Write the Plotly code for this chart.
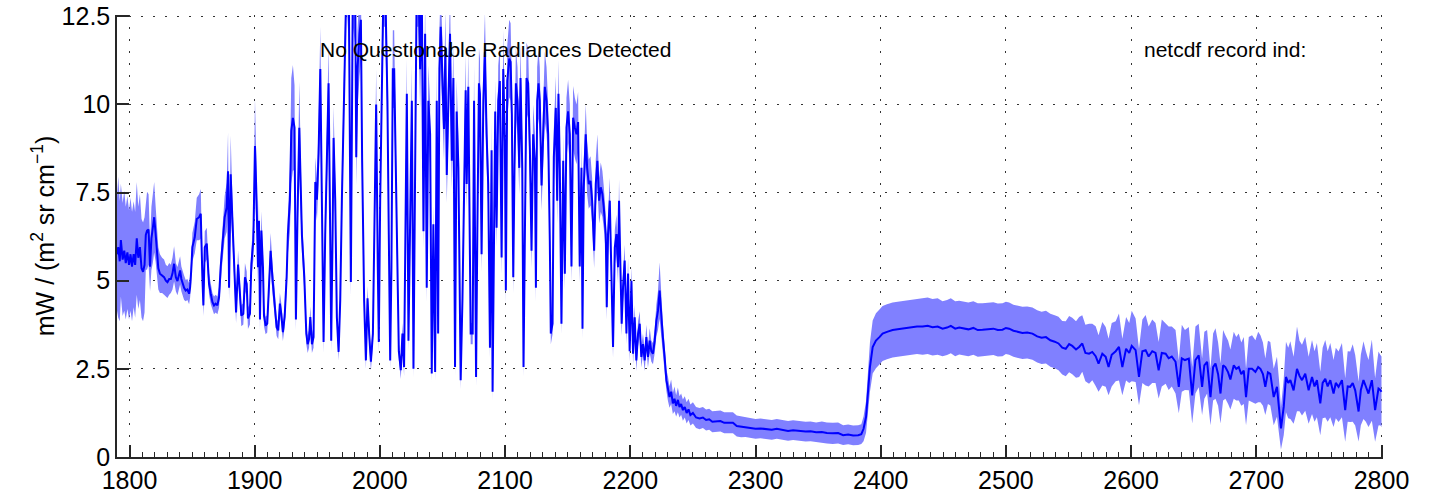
import plotly.graph_objects as go

# Wavenumber (cm^-1)
wavenumber = [
    1790.0, 1791.0, 1792.2, 1793.1, 1794.5, 1795.8, 1797.0, 1798.3, 1799.6, 1800.8,
    1802.0, 1803.3, 1804.5, 1805.8, 1807.0, 1808.3, 1809.6, 1810.8, 1812.0, 1813.0,
    1814.0, 1815.2, 1816.4, 1817.5, 1818.6, 1819.7, 1820.8, 1821.8, 1823.0, 1824.3,
    1826.0, 1827.6, 1829.0, 1830.3, 1831.7, 1833.0, 1834.3, 1835.6, 1837.0, 1838.3,
    1839.4, 1840.4, 1841.4, 1842.3, 1843.6, 1844.9, 1846.2, 1847.6, 1848.4, 1849.3,
    1850.2, 1852.1, 1853.7, 1855.6, 1856.9, 1858.2, 1859.0, 1860.1, 1861.7, 1862.7,
    1863.5, 1864.9, 1866.2, 1867.5, 1868.8, 1870.2, 1871.5, 1872.8, 1874.0, 1875.0,
    1876.0, 1877.6, 1878.7, 1879.5, 1880.8, 1882.1, 1883.0, 1884.0, 1885.1, 1886.7,
    1888.3, 1889.3, 1890.9, 1892.2, 1893.6, 1894.6, 1896.2, 1897.3, 1898.9, 1899.4,
    1900.2, 1901.5, 1902.6, 1903.4, 1904.2, 1905.3, 1906.6, 1907.4, 1908.7, 1910.0,
    1911.4, 1912.7, 1914.3, 1915.9, 1917.5, 1918.8, 1920.1, 1921.2, 1922.5, 1923.9,
    1925.5, 1926.5, 1928.1, 1929.2, 1930.5, 1931.8, 1932.9, 1934.2, 1935.6, 1937.7,
    1939.6, 1941.2, 1942.3, 1943.4, 1944.4, 1945.7, 1947.0, 1948.4, 1949.7, 1951.0,
    1952.4, 1953.7, 1955.0, 1956.3, 1957.7, 1959.0, 1960.3, 1961.1, 1962.2, 1963.0,
    1964.3, 1965.6, 1967.0, 1968.3, 1969.6, 1971.0, 1972.3, 1973.6, 1975.2, 1976.8,
    1978.4, 1980.3, 1981.1, 1982.1, 1983.7, 1984.8, 1985.8, 1987.4, 1988.8, 1990.1,
    1991.4, 1992.8, 1994.4, 1995.7, 1997.0, 1998.3, 1999.1, 2000.2, 2001.5, 2002.9,
    2004.2, 2006.0, 2007.1, 2008.2, 2009.2, 2010.3, 2011.4, 2012.4, 2013.5, 2015.1,
    2016.7, 2018.0, 2019.3, 2020.4, 2021.5, 2022.8, 2024.1, 2025.5, 2026.8, 2028.1,
    2029.4, 2030.8, 2032.1, 2033.4, 2034.8, 2036.1, 2037.4, 2038.7, 2040.1, 2041.4,
    2042.7, 2044.1, 2045.4, 2046.5, 2047.5, 2048.6, 2050.2, 2051.2, 2052.3, 2053.4,
    2054.7, 2056.0, 2057.4, 2058.7, 2060.0, 2061.3, 2062.7, 2063.5, 2064.5, 2065.9,
    2067.2, 2068.5, 2069.3, 2070.6, 2072.5, 2074.1, 2075.2, 2076.8, 2077.8, 2079.1,
    2079.9, 2081.2, 2082.6, 2083.9, 2085.2, 2086.5, 2087.9, 2089.2, 2090.0, 2091.1,
    2092.1, 2093.2, 2094.5, 2095.8, 2097.2, 2098.5, 2099.8, 2100.6, 2101.7, 2103.3,
    2104.4, 2105.4, 2106.5, 2107.5, 2108.6, 2109.9, 2111.3, 2112.3, 2113.7, 2114.7,
    2115.8, 2117.1, 2118.4, 2119.8, 2121.1, 2122.4, 2123.8, 2124.6, 2125.6, 2126.7,
    2127.7, 2129.1, 2130.4, 2131.7, 2133.1, 2134.4, 2135.7, 2136.5, 2137.9, 2138.9,
    2140.5, 2141.6, 2142.6, 2143.7, 2145.0, 2146.4, 2147.7, 2149.0, 2150.3, 2151.7,
    2153.0, 2154.3, 2155.7, 2157.0, 2158.3, 2159.6, 2161.0, 2161.8, 2162.8, 2164.4,
    2165.5, 2166.8, 2168.2, 2169.5, 2171.1, 2172.4, 2173.7, 2175.1, 2176.4, 2177.7,
    2178.8, 2180.4, 2181.2, 2182.2, 2183.6, 2184.9, 2186.2, 2187.6, 2188.9, 2190.2,
    2191.0, 2192.1, 2193.1, 2194.2, 2195.5, 2196.9, 2198.2, 2199.5, 2200.9, 2202.2,
    2203.5, 2204.8, 2206.2, 2207.5, 2208.8, 2210.1, 2211.5, 2212.8, 2214.1, 2215.5,
    2216.8, 2218.1, 2219.5, 2220.8, 2222.1, 2223.4, 2224.8, 2226.0, 2227.4, 2228.8,
    2230.0, 2231.3, 2232.6, 2234.0, 2235.3, 2236.6, 2238.0, 2239.3, 2240.6, 2242.0,
    2243.5, 2245.0, 2246.5, 2248.0, 2250.0, 2252.5, 2255.3, 2258.0, 2260.5, 2263.0,
    2265.5, 2268.6, 2272.0, 2275.0, 2278.5, 2282.0, 2285.0, 2288.5, 2292.0, 2295.0,
    2300.0, 2304.0, 2308.5, 2313.0, 2317.0, 2321.8, 2326.0, 2330.0, 2335.0, 2340.0,
    2344.0, 2348.4, 2353.0, 2357.0, 2361.7, 2366.0, 2370.0, 2374.0, 2378.0, 2382.0,
    2384.5, 2386.3, 2388.3, 2389.8, 2391.4, 2393.6, 2396.2, 2399.0, 2401.5, 2405.0,
    2409.5, 2413.5, 2417.5, 2421.0, 2425.0, 2429.0, 2433.5, 2437.5, 2441.4, 2445.5,
    2449.4, 2453.0, 2456.0, 2459.5, 2462.7, 2466.5, 2470.0, 2474.0, 2477.5, 2481.3,
    2485.5, 2490.0, 2493.5, 2497.3, 2500.0, 2502.6, 2506.0, 2509.5, 2513.2, 2517.0,
    2521.2, 2525.0, 2528.5, 2532.0, 2535.5, 2539.0, 2542.0, 2545.0, 2547.8, 2550.5,
    2553.0, 2556.0, 2558.5, 2561.0, 2563.5, 2566.4, 2569.0, 2571.7, 2574.0, 2577.0,
    2579.7, 2582.0, 2584.5, 2587.7, 2590.3, 2593.0, 2596.0, 2598.5, 2600.5, 2603.6,
    2606.3, 2609.0, 2611.6, 2614.0, 2616.9, 2619.5, 2622.0, 2624.5, 2627.6, 2630.0,
    2632.5, 2635.5, 2638.1, 2640.5, 2643.0, 2646.1, 2648.8, 2651.4, 2654.0, 2656.7,
    2658.5, 2660.7, 2663.4, 2665.5, 2667.4, 2669.5, 2671.4, 2673.5, 2675.3, 2677.5,
    2679.3, 2682.0, 2684.0, 2686.0, 2688.0, 2690.0, 2691.8, 2694.0, 2696.6, 2699.3,
    2701.5, 2703.3, 2705.3, 2707.2, 2709.3, 2711.2, 2713.9, 2716.5, 2718.4, 2719.7,
    2721.9, 2723.7, 2725.5, 2727.2, 2729.8, 2732.5, 2734.5, 2736.5, 2739.1, 2741.8,
    2744.5, 2746.5, 2748.4, 2751.1, 2753.0, 2755.1, 2757.0, 2759.1, 2761.7, 2763.5,
    2765.7, 2768.4, 2771.0, 2773.0, 2775.0, 2777.0, 2779.0, 2781.7, 2783.5, 2785.6,
    2787.5, 2789.6, 2792.3, 2794.9, 2796.5, 2797.6, 2799.0, 2800.0,
]

# Mean radiance, mW / (m^2 sr cm^-1)
radiance_mean = [
    5.75, 5.95, 5.55, 6.15, 5.6, 5.85, 5.5, 5.8, 5.45, 5.75,
    5.4, 5.75, 5.45, 6.2, 5.65, 5.95, 5.35, 5.25, 5.45, 6.3,
    6.42, 6.45, 5.4, 6.2, 6.5, 6.8, 6.35, 5.76, 5.35, 5.2,
    5.15, 5.1, 5.0, 4.96, 5.05, 5.05, 5.2, 5.48, 5.1, 4.99,
    5.15, 5.29, 5.05, 4.91, 4.8, 4.72, 4.75, 4.63, 4.82, 5.3,
    5.95, 6.23, 6.75, 6.8, 6.9, 5.1, 4.3, 5.95, 6.05, 5.4,
    4.91, 4.63, 4.4, 4.3, 4.35, 4.3, 4.53, 5.38, 5.9, 6.32,
    6.8, 7.08, 8.1, 4.8, 8.02, 6.8, 6.0, 5.38, 4.1, 5.46,
    4.63, 4.01, 4.06, 5.1, 4.91, 3.93, 4.06, 5.47, 6.14, 7.27,
    8.82, 7.27, 5.38, 6.7, 3.9, 6.42, 5.38, 4.01, 3.73, 3.78,
    4.72, 5.85, 5.0, 4.44, 3.68, 3.59, 4.35, 4.07, 3.54, 3.97,
    5.1, 6.32, 7.27, 9.25, 9.62, 9.34, 3.9, 6.9, 9.34, 6.3,
    5.1, 3.5, 3.2, 3.35, 3.97, 3.2, 3.4, 7.8, 7.3, 8.6,
    11.0, 7.1, 3.26, 6.3, 8.2, 10.6, 6.3, 3.3, 6.3, 9.05,
    7.3, 3.97, 2.98, 4.44, 7.27, 10.0, 13.5, 14.0, 13.0, 4.96,
    13.5, 13.0, 8.5, 11.0, 12.0, 12.4, 8.4, 4.44, 2.74, 4.5,
    3.5, 2.7, 3.5, 6.3, 10.0, 5.38, 3.26, 7.27, 12.0, 13.5,
    13.5, 10.1, 6.3, 2.74, 5.38, 11.0, 11.0, 8.96, 6.3, 3.0,
    2.46, 3.5, 2.55, 7.27, 10.3, 3.3, 7.27, 10.1, 2.5, 8.2,
    13.5, 13.5, 11.0, 13.5, 6.4, 12.0, 4.8, 10.1, 9.15, 2.37,
    6.6, 2.41, 10.1, 3.5, 11.0, 12.2, 10.6, 9.3, 11.6, 8.0,
    10.1, 12.0, 8.4, 10.75, 2.55, 9.8, 8.2, 4.25, 2.18, 4.44,
    7.8, 10.4, 7.74, 10.5, 3.5, 3.5, 10.1, 2.27, 6.3, 10.6,
    10.3, 5.75, 10.1, 11.5, 9.15, 7.74, 3.1, 8.7, 1.85, 7.27,
    9.8, 6.5, 10.1, 10.66, 5.66, 11.0, 8.96, 4.72, 10.66, 11.3,
    11.2, 9.7, 5.1, 8.2, 10.6, 10.1, 8.2, 10.75, 8.2, 2.55,
    7.27, 10.75, 10.6, 8.7, 5.85, 9.15, 8.4, 4.8, 10.1, 10.6,
    10.1, 7.7, 9.15, 10.5, 10.1, 9.15, 6.14, 3.5, 3.78, 8.5,
    9.9, 7.27, 10.3, 8.2, 3.78, 8.4, 5.2, 9.34, 9.8, 9.15,
    5.4, 9.62, 9.34, 9.15, 9.5, 5.4, 8.2, 3.64, 7.65, 9.15,
    8.2, 7.74, 7.83, 7.27, 5.85, 7.74, 8.4, 7.27, 7.65, 7.46,
    7.08, 6.32, 4.25, 6.32, 7.27, 5.57, 3.12, 5.94, 6.32, 5.38,
    7.27, 5.38, 3.78, 4.82, 5.57, 3.5, 5.2, 3.0, 5.0, 2.93,
    3.96, 2.74, 3.5, 3.78, 2.84, 3.2, 2.74, 3.4, 2.84, 3.3,
    3.0, 2.93, 3.3, 3.87, 4.15, 4.72, 3.87, 3.4, 2.84, 2.18,
    1.95, 1.7, 1.85, 1.52, 1.65, 1.45, 1.62, 1.42, 1.5, 1.33,
    1.42, 1.25, 1.35, 1.19, 1.25, 1.12, 1.09, 1.12, 1.05, 1.07,
    1.0, 1.0, 1.02, 0.97, 0.98, 0.97, 0.88, 0.86, 0.85, 0.83,
    0.8, 0.81, 0.78, 0.77, 0.8, 0.76, 0.74, 0.76, 0.74, 0.72,
    0.73, 0.7, 0.71, 0.68, 0.67, 0.68, 0.62, 0.64, 0.61, 0.62,
    0.65, 0.8, 1.14, 1.8, 2.55, 3.12, 3.3, 3.4, 3.5, 3.55,
    3.6, 3.62, 3.64, 3.66, 3.68, 3.7, 3.7, 3.72, 3.68, 3.7,
    3.64, 3.67, 3.72, 3.64, 3.67, 3.65, 3.62, 3.66, 3.6, 3.61,
    3.63, 3.64, 3.6, 3.61, 3.66, 3.64, 3.58, 3.55, 3.52, 3.53,
    3.5, 3.42, 3.38, 3.4, 3.31, 3.27, 3.22, 3.1, 3.07, 3.2,
    3.15, 3.05, 3.12, 3.22, 2.95, 2.93, 2.98, 2.86, 2.65, 2.93,
    2.84, 2.55, 2.9, 3.0, 3.12, 2.55, 3.07, 2.95, 3.15, 3.03,
    2.27, 3.0, 3.03, 2.85, 3.0, 2.95, 2.46, 2.95, 2.93, 2.8,
    2.85, 2.7, 1.99, 2.8, 2.75, 2.79, 1.75, 2.75, 2.88, 1.99,
    2.6, 2.7, 1.7, 2.55, 2.65, 2.35, 1.8, 2.6, 2.55, 2.4,
    2.2, 2.6, 2.5, 2.55, 2.35, 2.45, 1.7, 2.5, 2.5, 2.41,
    2.55, 2.5, 2.35, 1.99, 2.4, 2.36, 1.7, 1.99, 1.33, 0.81,
    1.42, 2.27, 2.1, 2.18, 1.89, 2.5, 2.3, 2.18, 2.36, 1.89,
    2.27, 2.0, 2.18, 1.52, 2.1, 2.22, 2.0, 2.18, 1.8, 2.1,
    1.99, 2.18, 1.33, 2.0, 1.99, 2.1, 1.89, 1.29, 1.9, 2.18,
    2.0, 1.8, 2.18, 1.33, 1.7, 1.94, 1.9, 1.85,
]

# Half-width of the shaded spread band
radiance_spread = [
    1.6, 2.0, 1.7, 1.6, 1.6, 1.7, 1.6, 1.6, 1.55, 1.6,
    1.55, 1.5, 1.5, 1.6, 1.45, 1.5, 1.4, 1.4, 1.35, 1.0,
    1.1, 1.0, 0.7, 0.9, 1.0, 1.0, 0.8, 0.7, 0.6, 0.55,
    0.5, 0.5, 0.45, 0.45, 0.45, 0.4, 0.45, 0.5, 0.4, 0.4,
    0.4, 0.4, 0.35, 0.35, 0.35, 0.3, 0.3, 0.3, 0.3, 0.35,
    0.4, 0.45, 0.6, 0.65, 0.7, 0.35, 0.3, 0.45, 0.45, 0.35,
    0.3, 0.3, 0.25, 0.25, 0.25, 0.25, 0.3, 0.35, 0.45, 0.5,
    0.6, 0.7, 1.1, 0.35, 1.1, 0.6, 0.5, 0.4, 0.3, 0.4,
    0.3, 0.3, 0.3, 0.4, 0.35, 0.3, 0.3, 0.4, 0.55, 0.8,
    1.35, 0.8, 0.45, 0.6, 0.3, 0.55, 0.45, 0.3, 0.25, 0.25,
    0.35, 0.5, 0.4, 0.35, 0.25, 0.25, 0.3, 0.3, 0.25, 0.3,
    0.4, 0.55, 0.9, 1.5, 1.5, 1.2, 0.3, 0.6, 1.3, 0.5,
    0.4, 0.3, 0.25, 0.25, 0.3, 0.25, 0.3, 0.7, 0.6, 0.8,
    1.2, 0.6, 0.3, 0.5, 0.8, 1.1, 0.5, 0.3, 0.5, 0.9,
    0.6, 0.3, 0.25, 0.35, 0.6, 1.0, 1.3, 1.3, 1.3, 0.4,
    1.3, 1.3, 0.8, 1.1, 1.2, 1.2, 0.8, 0.35, 0.25, 0.35,
    0.3, 0.25, 0.3, 0.55, 1.0, 0.45, 0.3, 0.6, 1.2, 1.3,
    1.3, 1.0, 0.5, 0.25, 0.45, 1.1, 1.1, 0.9, 0.5, 0.25,
    0.25, 0.3, 0.25, 0.6, 1.0, 0.3, 0.6, 1.0, 0.25, 0.8,
    1.3, 1.3, 1.1, 1.3, 0.5, 1.2, 0.4, 1.0, 0.9, 0.25,
    0.55, 0.25, 1.0, 0.3, 1.1, 1.2, 1.0, 0.9, 1.1, 0.8,
    1.0, 1.2, 0.8, 1.0, 0.25, 0.9, 0.8, 0.35, 0.25, 0.35,
    0.7, 1.0, 0.7, 1.0, 0.3, 0.3, 1.0, 0.25, 0.55, 1.0,
    1.0, 0.5, 1.0, 1.1, 0.9, 0.7, 0.3, 0.8, 0.25, 0.6,
    0.9, 0.55, 1.0, 1.0, 0.5, 1.1, 0.85, 0.4, 1.0, 1.1,
    1.1, 0.9, 0.45, 0.75, 1.0, 0.95, 0.75, 1.0, 0.75, 0.25,
    0.65, 1.0, 1.0, 0.8, 0.5, 0.85, 0.8, 0.4, 0.95, 1.0,
    0.95, 0.7, 0.85, 1.0, 0.95, 0.85, 0.5, 0.3, 0.3, 0.8,
    0.9, 0.65, 0.95, 0.75, 0.3, 0.75, 0.45, 0.85, 0.9, 0.85,
    0.45, 0.9, 0.85, 0.85, 0.85, 0.45, 0.75, 0.3, 0.7, 0.85,
    0.75, 0.7, 0.7, 0.65, 0.5, 0.7, 0.75, 0.65, 0.7, 0.65,
    0.6, 0.55, 0.35, 0.55, 0.65, 0.5, 0.3, 0.5, 0.55, 0.45,
    0.6, 0.45, 0.35, 0.4, 0.45, 0.3, 0.45, 0.3, 0.4, 0.3,
    0.35, 0.3, 0.35, 0.35, 0.3, 0.3, 0.3, 0.35, 0.3, 0.35,
    0.3, 0.3, 0.35, 0.45, 0.55, 0.8, 0.5, 0.4, 0.35, 0.3,
    0.35, 0.3, 0.35, 0.3, 0.35, 0.3, 0.35, 0.3, 0.3, 0.3,
    0.3, 0.3, 0.3, 0.3, 0.3, 0.3, 0.3, 0.3, 0.3, 0.3,
    0.3, 0.3, 0.3, 0.3, 0.3, 0.3, 0.3, 0.3, 0.28, 0.28,
    0.28, 0.28, 0.28, 0.28, 0.28, 0.28, 0.28, 0.28, 0.28, 0.28,
    0.28, 0.28, 0.3, 0.3, 0.3, 0.3, 0.28, 0.28, 0.28, 0.28,
    0.28, 0.35, 0.45, 0.6, 0.7, 0.75, 0.78, 0.78, 0.78, 0.78,
    0.78, 0.78, 0.78, 0.78, 0.78, 0.78, 0.8, 0.8, 0.8, 0.8,
    0.78, 0.78, 0.78, 0.78, 0.76, 0.76, 0.76, 0.76, 0.76, 0.75,
    0.75, 0.75, 0.75, 0.75, 0.74, 0.74, 0.74, 0.74, 0.74, 0.74,
    0.74, 0.74, 0.74, 0.75, 0.75, 0.75, 0.76, 0.76, 0.78, 0.8,
    0.8, 0.8, 0.85, 0.8, 0.8, 0.85, 0.8, 0.85, 0.8, 0.9,
    0.85, 0.8, 0.9, 0.85, 0.95, 0.8, 0.9, 0.85, 1.0, 0.9,
    0.8, 0.9, 1.0, 0.85, 0.9, 0.85, 0.8, 0.95, 0.85, 0.9,
    0.85, 0.9, 0.75, 0.95, 0.85, 0.9, 0.8, 0.95, 0.9, 0.8,
    0.95, 0.9, 0.8, 0.95, 1.0, 0.9, 0.85, 1.0, 0.9, 0.9,
    0.85, 0.95, 0.9, 0.95, 0.9, 0.95, 0.8, 0.9, 0.95, 0.9,
    1.0, 0.95, 0.9, 0.8, 0.9, 0.9, 0.8, 0.85, 0.75, 0.6,
    0.8, 1.0, 1.0, 1.1, 0.95, 1.2, 1.0, 1.0, 1.05, 0.95,
    1.05, 1.0, 1.05, 0.9, 1.0, 1.1, 1.0, 1.05, 0.95, 1.0,
    1.0, 1.05, 0.9, 1.0, 1.0, 1.1, 1.0, 0.85, 1.0, 1.1,
    1.0, 0.95, 1.15, 0.9, 1.0, 1.05, 1.0, 1.0,
]

y_ticks = [0, 2.5, 5, 7.5, 10, 12.5]
y_tick_text = ["0", "2.5", "5", "7.5", "10", "12.5"]
x_ticks = [1800, 1900, 2000, 2100, 2200, 2300, 2400, 2500, 2600, 2700, 2800]

n = min(len(wavenumber), len(radiance_mean), len(radiance_spread))
wn = wavenumber[:n]
mean = radiance_mean[:n]
lower = [m - s for m, s in zip(mean, radiance_spread[:n])]
upper = [m + s for m, s in zip(mean, radiance_spread[:n])]

FONT = "Liberation Sans, Arial, Helvetica, sans-serif"

fig = go.Figure()
fig.add_trace(go.Scatter(x=wn, y=lower, mode="lines", line=dict(width=0, color="#8080ff"),
                         showlegend=False, hoverinfo="skip"))
fig.add_trace(go.Scatter(x=wn, y=upper, mode="lines", line=dict(width=0, color="#8080ff"),
                         fill="tonexty", fillcolor="#8080ff", showlegend=False, hoverinfo="skip"))
fig.add_trace(go.Scatter(x=wn, y=mean, mode="lines", line=dict(width=2, color="#0000ff"),
                         showlegend=False))

fig.add_annotation(x=1950.7, y=11.55, xref="x", yref="y", text="No Questionable Radiances Detected",
                   showarrow=False, xanchor="left", yanchor="middle",
                   font=dict(family=FONT, size=21, color="black"))
fig.add_annotation(x=2608.6, y=11.55, xref="x", yref="y", text="netcdf record ind:",
                   showarrow=False, xanchor="left", yanchor="middle",
                   font=dict(family=FONT, size=21, color="black"))

axis_line = "#262626"
fig.update_layout(
    width=1434, height=500,
    margin=dict(l=117, r=51, t=15, b=43),
    paper_bgcolor="white", plot_bgcolor="white",
    font=dict(family=FONT, size=25, color="black"),
    xaxis=dict(
        range=[1790, 2801.2], tickvals=x_ticks, ticks="inside", ticklen=12, tickwidth=1.5,
        tickcolor=axis_line, showline=True, linecolor=axis_line, linewidth=1.5, mirror=False,
        showgrid=True, gridcolor="#333333", gridwidth=1, griddash="2px,10px", zeroline=False,
        tickfont=dict(family=FONT, size=25, color="black"), automargin=False,
        ticklabeloverflow="allow",
        minor=dict(ticks="inside", ticklen=5, dtick=10, tickcolor=axis_line, tickwidth=1, showgrid=False),
    ),
    yaxis=dict(
        range=[0, 12.535], tickvals=y_ticks, ticktext=y_tick_text, ticks="inside", ticklen=12,
        tickwidth=1.5, tickcolor=axis_line, showline=True, linecolor=axis_line, linewidth=1.5,
        mirror=False, showgrid=True, gridcolor="#333333", gridwidth=1, griddash="2px,10px",
        zeroline=False, tickfont=dict(family=FONT, size=25, color="black"),
        ticklabeloverflow="allow",
        title=dict(text="mW / (m<sup>2</sup> sr cm<sup>−1</sup>)", standoff=0,
                   font=dict(family=FONT, size=25, color="black")),
        automargin=False,
    ),
)

fig.write_html("out.html", config={"displayModeBar": False},
               post_script="document.body.style.margin='0';")
